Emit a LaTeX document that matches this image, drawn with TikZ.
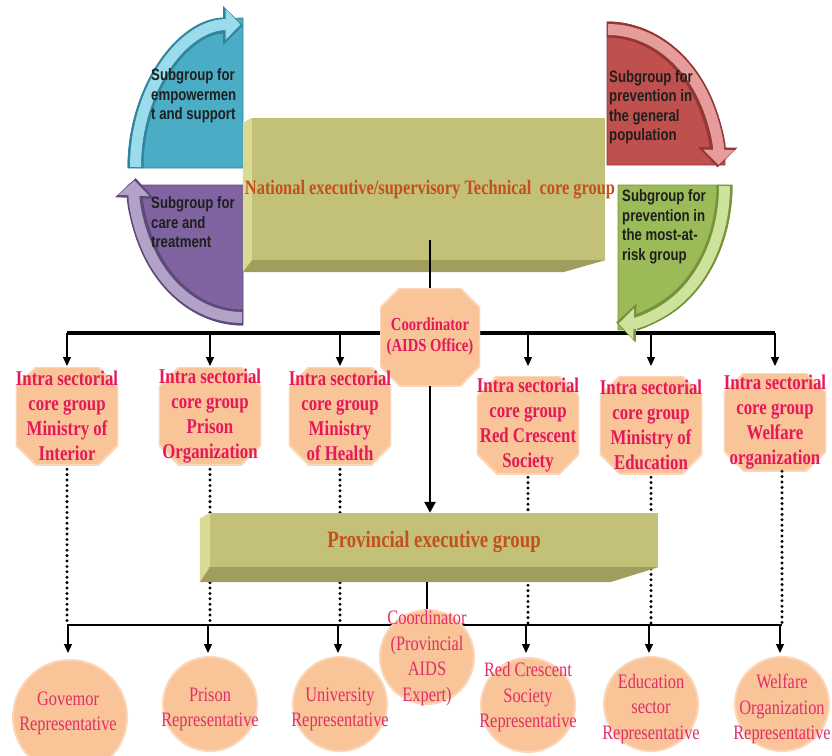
\documentclass[tikz,border=0pt]{standalone}
\usepackage{fontspec}
\newfontfamily\cserif{Liberation Serif}[FakeStretch=0.8]
\newfontfamily\csans{Liberation Sans}[FakeStretch=0.8]
\usetikzlibrary{arrows.meta,calc}
\definecolor{peach}{HTML}{F9C497}
\definecolor{peachedge}{HTML}{FBD6B8}
\definecolor{pinkred}{HTML}{E4185A}
\definecolor{pinkreg}{HTML}{E0306A}
\definecolor{boxtext}{HTML}{C4501E}
\definecolor{olive}{HTML}{C3C078}
\definecolor{olivelight}{HTML}{DADA92}
\definecolor{olivedark}{HTML}{A19D5C}
\definecolor{cyF}{HTML}{4BACC6}\definecolor{cyB}{HTML}{9ADCEB}\definecolor{cyD}{HTML}{31859C}
\definecolor{puF}{HTML}{8064A2}\definecolor{puB}{HTML}{B3A2C7}\definecolor{puD}{HTML}{5F497A}
\definecolor{reF}{HTML}{C0504D}\definecolor{reB}{HTML}{E59C9A}\definecolor{reD}{HTML}{943634}
\definecolor{grF}{HTML}{9BBB59}\definecolor{grB}{HTML}{CDE39B}\definecolor{grD}{HTML}{76923C}
\begin{document}
\begin{tikzpicture}[x=1pt,y=-1pt,
  quadline/.style={line width=0.8pt, line join=round},
  bandout/.style={line width=16pt, -{Triangle[width=38pt,length=20pt]}},
  bandin/.style={line width=11pt, shorten >=2.5pt, -{Triangle[width=30pt,length=15pt]}},
  subtext/.style={font=\csans\bfseries\fontsize{16.5}{19.5}\selectfont, text=black!88, align=left, anchor=west, inner sep=0pt},
  octnode/.style={inner sep=0pt, minimum width=100pt, minimum height=98pt, align=center, text=pinkred,
    font=\cserif\bfseries\fontsize{21}{25}\selectfont,
    path picture={\fill[peach, draw=peachedge, line width=2pt]
      ([xshift=20pt]path picture bounding box.north west) -- ([xshift=-20pt]path picture bounding box.north east)
      -- ([yshift=-20pt]path picture bounding box.north east) -- ([yshift=20pt]path picture bounding box.south east)
      -- ([xshift=-20pt]path picture bounding box.south east) -- ([xshift=20pt]path picture bounding box.south west)
      -- ([yshift=20pt]path picture bounding box.south west) -- ([yshift=-20pt]path picture bounding box.north west) -- cycle;}},
  repc/.style={circle, fill=peach, draw=peachedge, line width=2pt, inner sep=0pt, minimum size=94pt},
  reptext/.style={font=\cserif\fontsize{20.5}{25.5}\selectfont, text=pinkreg, align=center, inner sep=0pt},
  face/.style={fill=olive, inner sep=0pt},
  boxlabel/.style={font=\cserif\bfseries\fontsize{20.5}{24}\selectfont, text=boxtext, inner sep=0pt},
  bar/.style={line width=3.5pt},
  thinbar/.style={line width=2.5pt},
  smallarrow/.style={line width=1.3pt, -{Triangle[width=8pt,length=9pt]}},
  bigarrow/.style={line width=2.5pt, -{Triangle[width=11pt,length=11pt]}},
  dots/.style={line width=3.3pt, dash pattern=on 0pt off 5.4pt, line cap=round}
]
\useasboundingbox (0,0) rectangle (832,755);

% ---------- top bar (behind the subgroup arrows) ----------
\coordinate (barL) at (67,333);
\coordinate (barR) at (775,333);
\draw[bar] (barL) -- (barR);

% ---------- subgroup quadrants ----------
% top-left (cyan)
\filldraw[quadline, fill=cyF, draw=cyD] (243,168) -- (128,168) arc[start angle=180, end angle=270, x radius=115, y radius=150] -- cycle;
\draw[bandout, cyD] (135.5,168) arc[start angle=180, end angle=270, x radius=107.5, y radius=142.5];
\draw[bandin, cyB] (135.5,167) arc[start angle=180, end angle=270, x radius=107.5, y radius=142.5];
% bottom-left (purple)
\filldraw[quadline, fill=puF, draw=puD] (243,185) -- (128,185) arc[start angle=180, end angle=90, x radius=115, y radius=140] -- cycle;
\draw[bandout, puD] (243,317.5) arc[start angle=90, end angle=183, x radius=107.5, y radius=132.5];
\draw[bandin, puB] (242,317.5) arc[start angle=90, end angle=183, x radius=107.5, y radius=132.5];
% top-right (red)
\filldraw[quadline, fill=reF, draw=reD] (607,165) -- (607,22) arc[start angle=270, end angle=360, x radius=118, y radius=143] -- cycle;
\draw[bandout, reD] (607,29.5) arc[start angle=270, end angle=361, x radius=110.5, y radius=135.5];
\draw[bandin, reB] (608,29.5) arc[start angle=270, end angle=361, x radius=110.5, y radius=135.5];
% bottom-right (green)
\filldraw[quadline, fill=grF, draw=grD] (618,185) -- (732,185) arc[start angle=0, end angle=90, x radius=114, y radius=145] -- cycle;
\draw[bandout, grD] (724.5,185) arc[start angle=0, end angle=91, x radius=106.5, y radius=137.5];
\draw[bandin, grB] (724.5,186) arc[start angle=0, end angle=91, x radius=106.5, y radius=137.5];

\node[subtext] (sgemp) at (151,96) {Subgroup for\\empowermen\\t and support};
\node[subtext] (sgcare) at (151,222.5) {Subgroup for\\care and\\treatment};
\node[subtext] (sggen) at (609,107) {Subgroup for\\prevention in\\the general\\population};
\node[subtext] (sgrisk) at (622,227) {Subgroup for\\prevention in\\the most-at-\\risk group};

% ---------- national box ----------
\node[face, minimum width=353pt, minimum height=142pt] (nat) at (428.5,189) {};
\fill[olivelight] ([xshift=-9pt,yshift=-5pt]nat.north west) -- (nat.north west) -- (nat.south west) -- ([xshift=-9pt,yshift=-12pt]nat.south west) -- cycle;
\fill[olivedark] (nat.south west) -- (nat.south east) -- ([xshift=-42pt,yshift=-12pt]nat.south east) -- ([xshift=-9pt,yshift=-12pt]nat.south west) -- cycle;
\node[boxlabel] (nattext) at (430,190) {National executive/supervisory Technical\ \ core group};

% ---------- coordinator & intra sectorial groups ----------
\coordinate (natstem) at (430,240);
\node[octnode, font=\cserif\bfseries\fontsize{18.3}{21}\selectfont] (coord) at (430,337) {Coordinator\\(AIDS Office)};
\draw[thinbar] (natstem) -- (coord.north);

\node[octnode] (interior) at (67,416) {Intra sectorial\\core group\\Ministry of\\Interior};
\node[octnode] (prison) at (210,416) {Intra sectorial\\core group\\Prison\\Organization};
\node[octnode] (health) at (340,416) {Intra sectorial\\core group\\Ministry\\of Health};
\node[octnode] (redc) at (528,425) {Intra sectorial\\core group\\Red Crescent\\Society};
\node[octnode] (educ) at (651,425) {Intra sectorial\\core group\\Ministry of\\Education};
\node[octnode] (welf) at (775,422) {Intra sectorial\\core group\\Welfare\\organization};

\coordinate (arrowend) at (0,366);
\foreach \n in {interior,prison,health,redc,educ,welf}
  \draw[smallarrow] (\n.north |- barL) -- (\n.north |- arrowend);

% ---------- bottom representatives (positions needed for dotted lines) ----------
\coordinate (bbarL) at (67,625);
\coordinate (bbarR) at (782,625);
\node[repc, minimum size=114pt] (gov) at (70,717) {};
\node[repc] (prisrep) at (210,704) {};
\node[repc] (univ) at (340,704) {};
\node[repc] (rcrep) at (528,705) {};
\node[repc] (edrep) at (651,704) {};
\node[repc] (wrep) at (782,704) {};

% dotted links
\draw[dots] ([yshift=-4pt]interior.south) -- (interior.south |- bbarL);
\draw[dots] ([yshift=-4pt]prison.south) -- (prison.south |- bbarL);
\draw[dots] ([yshift=-4pt]health.south) -- (health.south |- bbarL);
\draw[dots] ([yshift=-3pt]redc.south) -- (redc.south |- bbarL);
\draw[dots] ([yshift=-3pt]educ.south) -- (educ.south |- bbarL);
\draw[dots] (wrep.north |- welf.south) -- (wrep.north |- bbarL);

% ---------- provincial box ----------
\node[face, minimum width=448pt, minimum height=54pt] (prov) at (434,540) {};
\fill[olivelight] ([xshift=-10pt,yshift=-6pt]prov.north west) -- (prov.north west) -- (prov.south west) -- ([xshift=-10pt,yshift=-15pt]prov.south west) -- cycle;
\fill[olivedark] (prov.south west) -- (prov.south east) -- ([xshift=-48pt,yshift=-15pt]prov.south east) -- ([xshift=-10pt,yshift=-15pt]prov.south west) -- cycle;
\node[boxlabel, font=\cserif\bfseries\fontsize{23.5}{26}\selectfont] (provtext) at (434,542) {Provincial executive group};

\draw[bigarrow] (coord.south) -- (coord.south |- prov.north);

% ---------- bottom bar & arrows ----------
\draw[thinbar] (bbarL) -- (bbarR);
\coordinate (barrowend) at (0,653);
\foreach \n in {gov,prisrep,univ,rcrep,edrep,wrep}
  \draw[smallarrow] ([xshift=-2pt]\n.north |- bbarL) -- ([xshift=-2pt]\n.north |- barrowend);

\coordinate (provbase) at (427,582);
\node[repc] (pcoord) at (427,657) {};
\draw[line width=1.3pt] (provbase) -- (pcoord.north);

% ---------- texts of representatives ----------
\node[reptext] (govt) at (68,713.5) {Govemor\\Representative};
\node[reptext] (prisrept) at (210,709.5) {Prison\\Representative};
\node[reptext] (univt) at (340,709.5) {University\\Representative};
\node[reptext] (pcoordt) at (427,658) {Coordinator\\(Provincial\\AIDS\\Expert)};
\node[reptext] (rcrept) at (528,697.5) {Red Crescent\\Society\\Representative};
\node[reptext] (edrept) at (651,709) {Education\\sector\\Representative};
\node[reptext] (wrept) at (782,709) {Welfare\\Organization\\Representative};
\end{tikzpicture}
\end{document}
